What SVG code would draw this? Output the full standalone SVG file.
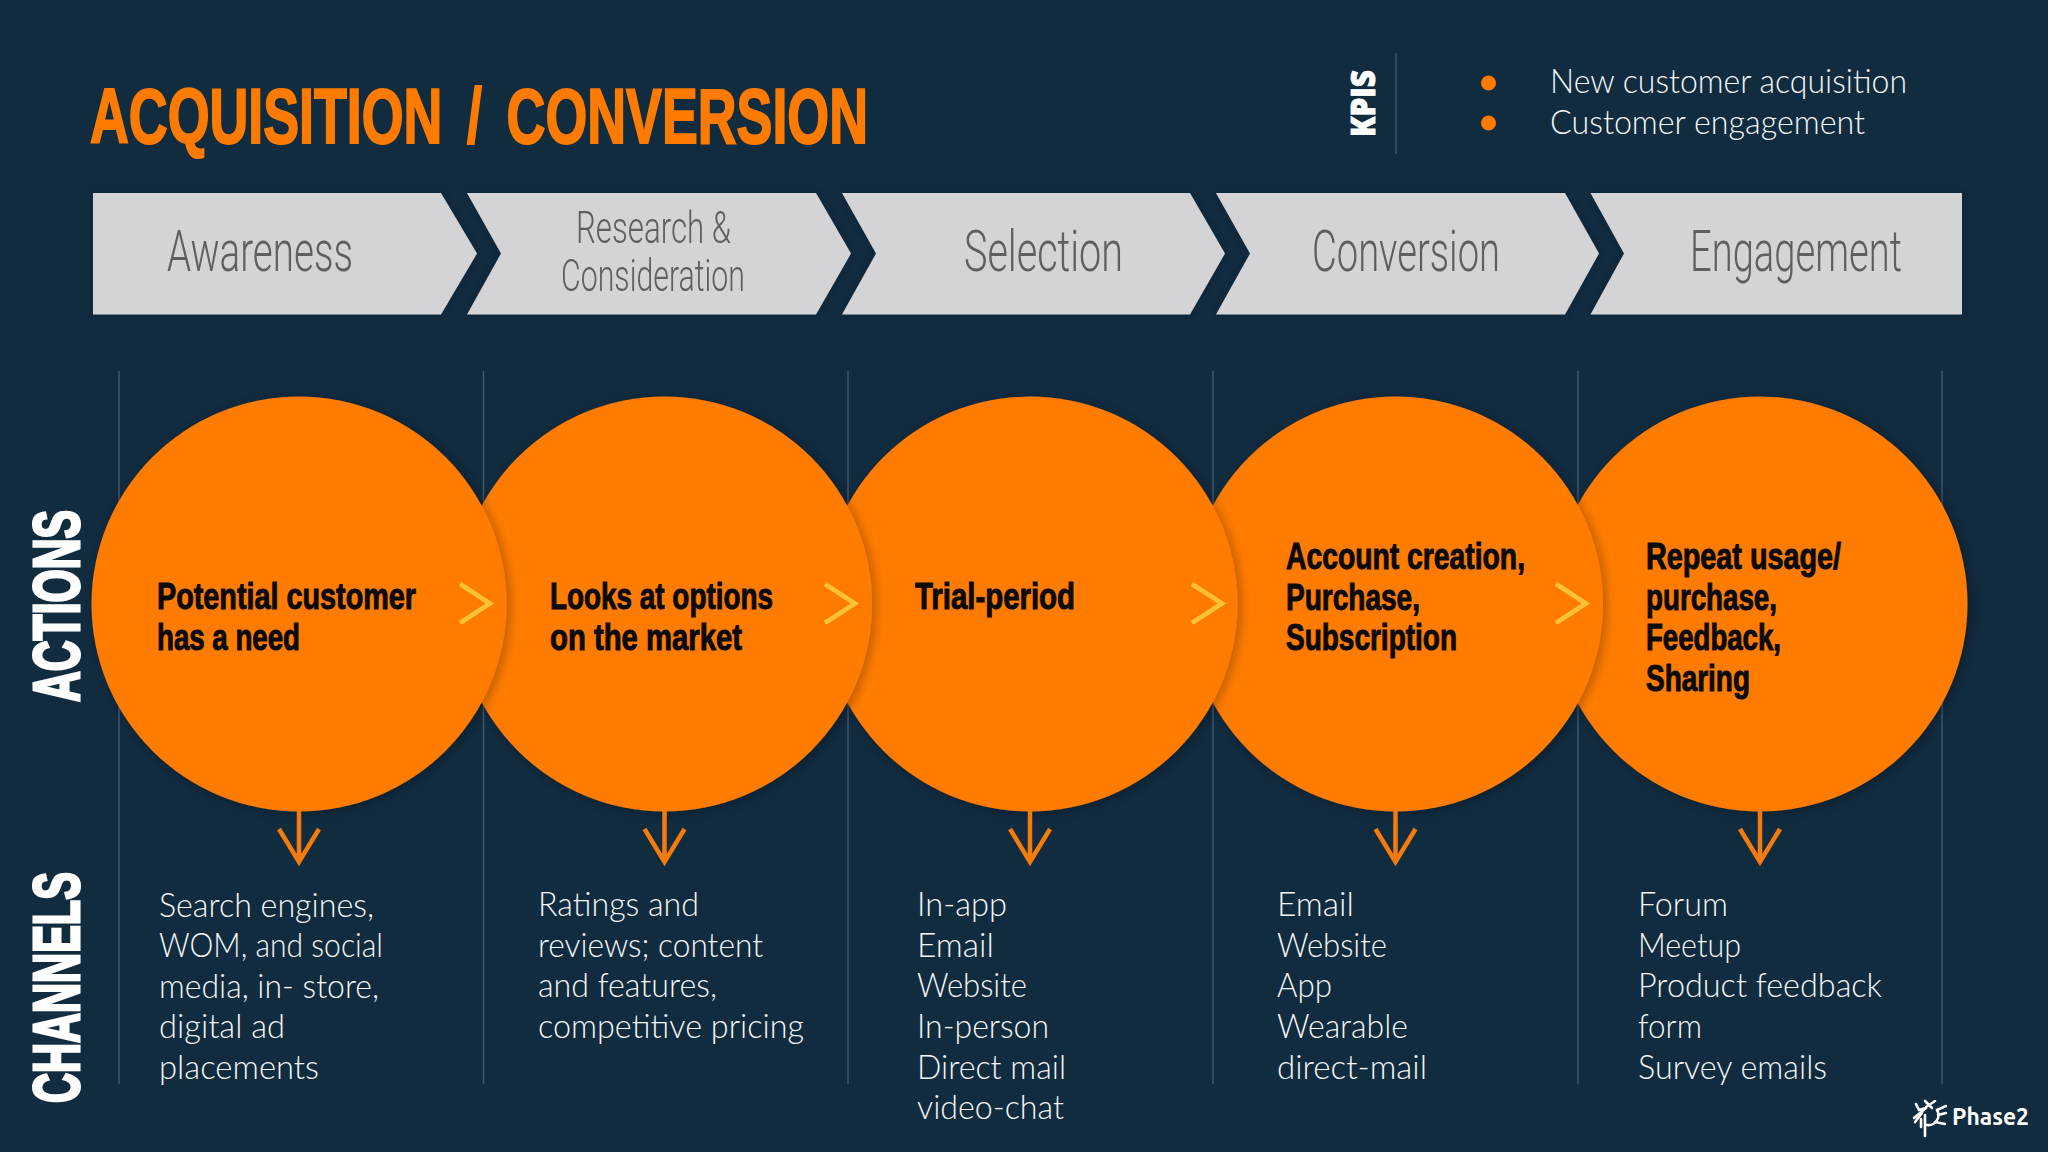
<svg xmlns="http://www.w3.org/2000/svg" width="2048" height="1152" viewBox="0 0 2048 1152">
<style>
.title{font:700 78px "Liberation Sans Narrow","Liberation Sans",sans-serif;fill:#ff7b00;stroke:#ff7b00;stroke-width:2;word-spacing:14px}
.side{font:700 64px "Liberation Sans Narrow","Liberation Sans",sans-serif;fill:#fff;stroke:#fff;stroke-width:3}
.kpis{font:800 33px "Open Sans",sans-serif;fill:#fff;stroke:#fff;stroke-width:.8}
.kpi,.ch{font:300 33px "Lato",sans-serif;fill:#f4f7f9}
.st{font:300 58px "Roboto",sans-serif;fill:#5f5f60}
.st2{font:300 45px "Roboto",sans-serif;fill:#5f5f60}
.act{font:700 37px "Liberation Sans Narrow","Liberation Sans",sans-serif;fill:#0a0a0a;stroke:#0a0a0a;stroke-width:1}
.chev{fill:#d4d4d6}
.circ{fill:#ff7b00;filter:url(#sh)}
.vl{stroke:#40596f;stroke-width:1.5;fill:none}
.nx{fill:none;stroke:#ffc234;stroke-width:4.5}
.dn{fill:none;stroke:#f57c0c;stroke-width:4.5}
</style>
<defs>
<filter id="sh" x="-10%" y="-10%" width="120%" height="120%"><feDropShadow dx="3" dy="2" stdDeviation="6" flood-color="#000" flood-opacity=".28"/></filter>
<filter id="sc" x="-5%" y="-15%" width="110%" height="130%"><feDropShadow dx="0" dy="0" stdDeviation="5" flood-color="#000" flood-opacity=".2"/></filter>
</defs>
<rect width="2048" height="1152" fill="#112b3f"/>
<g id="title">
<text class="title" x="90" y="143" textLength="778" lengthAdjust="spacingAndGlyphs">ACQUISITION / CONVERSION</text>
</g>
<g id="kpis">
<text class="kpis" transform="translate(1375 137) rotate(-90)" textLength="67" lengthAdjust="spacingAndGlyphs">KPIS</text>
<line class="vl" x1="1396" y1="53" x2="1396" y2="154"/>
<circle cx="1488.5" cy="83" r="7.5" fill="#ff7b00"/>
<circle cx="1488.5" cy="123" r="7.5" fill="#ff7b00"/>
<text class="kpi" x="1550" y="93" textLength="357" lengthAdjust="spacingAndGlyphs">New customer acquisition</text>
<text class="kpi" x="1550" y="134" textLength="315" lengthAdjust="spacingAndGlyphs">Customer engagement</text>
</g>
<text class="side" transform="translate(79 702) rotate(-90)" textLength="192" lengthAdjust="spacingAndGlyphs">ACTIONS</text>
<text class="side" transform="translate(79 1103) rotate(-90)" textLength="231" lengthAdjust="spacingAndGlyphs">CHANNELS</text>
<g id="stages" filter="url(#sc)">
<g id="stage-awareness"><path class="chev" d="M93 193H441L477 253.500 441 314.500H93Z"/><text class="st" x="167" y="271" textLength="186" lengthAdjust="spacingAndGlyphs">Awareness</text></g>
<g id="stage-research"><path class="chev" d="M467 193H816L851 253.500 816 314.500H467L501 253.500Z"/><text class="st2" x="576" y="243" textLength="155" lengthAdjust="spacingAndGlyphs">Research &amp;</text><text class="st2" x="561" y="291" textLength="184" lengthAdjust="spacingAndGlyphs">Consideration</text></g>
<g id="stage-selection"><path class="chev" d="M842 193H1190L1225 253.500 1190 314.500H842L876 253.500Z"/><text class="st" x="964" y="271" textLength="159" lengthAdjust="spacingAndGlyphs">Selection</text></g>
<g id="stage-conversion"><path class="chev" d="M1216 193H1565L1599 253.500 1565 314.500H1216L1250 253.500Z"/><text class="st" x="1312" y="271" textLength="188" lengthAdjust="spacingAndGlyphs">Conversion</text></g>
<g id="stage-engagement"><path class="chev" d="M1590.500 193H1962V314.500H1590.500L1624 253.500Z"/><text class="st" x="1690" y="271" textLength="212" lengthAdjust="spacingAndGlyphs">Engagement</text></g>
</g>
<g id="dividers">
<line class="vl" x1="119" y1="371" x2="119" y2="1084"/>
<line class="vl" x1="483.500" y1="371" x2="483.500" y2="1084"/>
<line class="vl" x1="848" y1="371" x2="848" y2="1084"/>
<line class="vl" x1="1213" y1="371" x2="1213" y2="1084"/>
<line class="vl" x1="1578" y1="371" x2="1578" y2="1084"/>
<line class="vl" x1="1942" y1="371" x2="1942" y2="1084"/>
</g>
<g id="action-5"><circle class="circ" cx="1760" cy="604" r="207.500"/>
<text class="act" x="1646" y="569" textLength="195" lengthAdjust="spacingAndGlyphs">Repeat usage/</text>
<text class="act" x="1646" y="610" textLength="131" lengthAdjust="spacingAndGlyphs">purchase,</text>
<text class="act" x="1646" y="650" textLength="135" lengthAdjust="spacingAndGlyphs">Feedback,</text>
<text class="act" x="1646" y="691" textLength="104" lengthAdjust="spacingAndGlyphs">Sharing</text></g>
<g id="action-4"><circle class="circ" cx="1395.500" cy="604" r="207.500"/>
<text class="act" x="1286" y="569" textLength="239" lengthAdjust="spacingAndGlyphs">Account creation,</text>
<text class="act" x="1286" y="610" textLength="134" lengthAdjust="spacingAndGlyphs">Purchase,</text>
<text class="act" x="1286" y="650" textLength="171" lengthAdjust="spacingAndGlyphs">Subscription</text></g>
<g id="action-3"><circle class="circ" cx="1030" cy="604" r="207.500"/>
<text class="act" x="915" y="609" textLength="160" lengthAdjust="spacingAndGlyphs">Trial-period</text></g>
<g id="action-2"><circle class="circ" cx="664.500" cy="604" r="207.500"/>
<text class="act" x="550" y="609" textLength="223" lengthAdjust="spacingAndGlyphs">Looks at options</text>
<text class="act" x="550" y="650" textLength="192" lengthAdjust="spacingAndGlyphs">on the market</text></g>
<g id="action-1"><circle class="circ" cx="299" cy="604" r="207.500"/>
<text class="act" x="157" y="609" textLength="259" lengthAdjust="spacingAndGlyphs">Potential customer</text>
<text class="act" x="157" y="650" textLength="143" lengthAdjust="spacingAndGlyphs">has a need</text></g>
<g id="connectors">
<path class="nx" d="M460 584L490 603.500 460 623"/>
<path class="nx" d="M825 584L855 603.500 825 623"/>
<path class="nx" d="M1192 584L1222 603.500 1192 623"/>
<path class="nx" d="M1556 584L1586 603.500 1556 623"/>
<path class="dn" d="M299 811V862M279 829L299 862 319 829"/>
<path class="dn" d="M664.500 811V862M644.500 829L664.500 862 684.500 829"/>
<path class="dn" d="M1030 811V862M1010 829L1030 862 1050 829"/>
<path class="dn" d="M1395.500 811V862M1375.500 829L1395.500 862 1415.500 829"/>
<path class="dn" d="M1760 811V862M1740 829L1760 862 1780 829"/>
</g>
<g id="channels-1">
<text class="ch" x="159" y="917" textLength="215" lengthAdjust="spacingAndGlyphs">Search engines,</text>
<text class="ch" x="159" y="957" textLength="224" lengthAdjust="spacingAndGlyphs">WOM, and social</text>
<text class="ch" x="159" y="998" textLength="220" lengthAdjust="spacingAndGlyphs">media, in- store,</text>
<text class="ch" x="159" y="1038" textLength="126" lengthAdjust="spacingAndGlyphs">digital ad</text>
<text class="ch" x="159" y="1079" textLength="160" lengthAdjust="spacingAndGlyphs">placements</text></g>
<g id="channels-2">
<text class="ch" x="538" y="916" textLength="161" lengthAdjust="spacingAndGlyphs">Ratings and</text>
<text class="ch" x="538" y="957" textLength="225" lengthAdjust="spacingAndGlyphs">reviews; content</text>
<text class="ch" x="538" y="997" textLength="179" lengthAdjust="spacingAndGlyphs">and features,</text>
<text class="ch" x="538" y="1038" textLength="266" lengthAdjust="spacingAndGlyphs">competitive pricing</text></g>
<g id="channels-3">
<text class="ch" x="917" y="916" textLength="90" lengthAdjust="spacingAndGlyphs">In-app</text>
<text class="ch" x="917" y="957" textLength="77" lengthAdjust="spacingAndGlyphs">Email</text>
<text class="ch" x="917" y="997" textLength="110" lengthAdjust="spacingAndGlyphs">Website</text>
<text class="ch" x="917" y="1038" textLength="132" lengthAdjust="spacingAndGlyphs">In-person</text>
<text class="ch" x="917" y="1079" textLength="149" lengthAdjust="spacingAndGlyphs">Direct mail</text>
<text class="ch" x="917" y="1119" textLength="147" lengthAdjust="spacingAndGlyphs">video-chat</text></g>
<g id="channels-4">
<text class="ch" x="1277" y="916" textLength="77" lengthAdjust="spacingAndGlyphs">Email</text>
<text class="ch" x="1277" y="957" textLength="110" lengthAdjust="spacingAndGlyphs">Website</text>
<text class="ch" x="1277" y="997" textLength="55" lengthAdjust="spacingAndGlyphs">App</text>
<text class="ch" x="1277" y="1038" textLength="131" lengthAdjust="spacingAndGlyphs">Wearable</text>
<text class="ch" x="1277" y="1079" textLength="150" lengthAdjust="spacingAndGlyphs">direct-mail</text></g>
<g id="channels-5">
<text class="ch" x="1638" y="916" textLength="90" lengthAdjust="spacingAndGlyphs">Forum</text>
<text class="ch" x="1638" y="957" textLength="103" lengthAdjust="spacingAndGlyphs">Meetup</text>
<text class="ch" x="1638" y="997" textLength="244" lengthAdjust="spacingAndGlyphs">Product feedback</text>
<text class="ch" x="1638" y="1038" textLength="64" lengthAdjust="spacingAndGlyphs">form</text>
<text class="ch" x="1638" y="1079" textLength="189" lengthAdjust="spacingAndGlyphs">Survey emails</text></g>
<g id="logo" fill="none" stroke="#fff" stroke-width="2.6" stroke-linecap="round">
<path d="M1937 1110A10 10 0 0 1 1927 1125"/>
<path d="M1926 1108L1919 1110 1916 1104M1926 1108L1914 1118M1922 1113L1915 1122M1925 1115V1136M1921 1119V1127M1926 1107L1935 1101M1932 1108L1925 1101M1937 1110L1946 1106M1938 1115L1946 1113M1935 1122L1945 1124"/>
<text x="1952" y="1125" font-family="Ubuntu,'Open Sans',sans-serif" font-weight="700" font-size="23" fill="#fff" stroke="none" textLength="77" lengthAdjust="spacingAndGlyphs">Phase2</text>
</g>
</svg>
